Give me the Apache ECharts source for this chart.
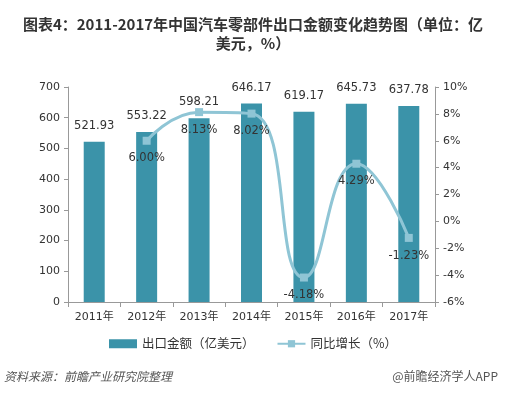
<!DOCTYPE html>
<html><head><meta charset="utf-8">
<script src="https://cdn.jsdelivr.net/npm/echarts@6/dist/echarts.min.js"></script>
<style>html,body{margin:0;padding:0;background:#fff}#c{width:506px;height:397px}</style>
</head><body><div id="c"></div>
<script>
var categories = ['2011年','2012年','2013年','2014年','2015年','2016年','2017年'];
var exportValues = [521.93, 553.22, 598.21, 646.17, 619.17, 645.73, 637.78];
var growthValues = ['-', 6.00, 8.13, 8.02, -4.18, 4.29, -1.23];
var seriesNames = ['出口金额（亿美元）', '同比增长（%）'];
var titleText = '图表4：2011-2017年中国汽车零部件出口金额变化趋势图（单位：亿\n美元，%）';
var sourceText = '资料来源：前瞻产业研究院整理';
var brandText = '@前瞻经济学人APP';

var font = '"Noto Sans CJK SC", sans-serif';
var numFont = '"DejaVu Sans", "Noto Sans CJK SC", sans-serif';
var chart = echarts.init(document.getElementById('c'), null, {renderer:'canvas'});
chart.setOption({
  animation: false,
  backgroundColor: '#fff',
  title: [{
    text: titleText, left: 'center', top: 10,
    textStyle: {fontSize: 15, fontWeight: 'bold', color: '#333', lineHeight: 19, fontFamily: font}
  }],
  graphic: [
    {type:'text', left: 4, top: 370, style:{text: sourceText, fontSize: 12, fontStyle:'italic', fill:'#555', fontFamily: font}},
    {type:'text', right: 8, top: 370, style:{text: brandText, fontSize: 12, fill:'#555', fontFamily: font}}
  ],
  legend: {
    bottom: 42, left: 'center', itemGap: 22, itemWidth: 28, itemHeight: 9,
    textStyle: {fontSize: 12.5, color: '#333', fontFamily: font},
    data: [
      {name: seriesNames[0], icon: 'rect'},
      {name: seriesNames[1]}
    ]
  },
  grid: {left: 68, right: 71, top: 87, bottom: 95},
  xAxis: {
    type: 'category', data: categories,
    axisLine: {lineStyle: {color: '#999'}},
    axisTick: {show: true, lineStyle: {color: '#999'}, length: 5},
    axisLabel: {color: '#333', fontSize: 11, margin: 10, fontFamily: numFont}
  },
  yAxis: [{
    type: 'value', min: 0, max: 700, interval: 100,
    axisLine: {show: true, lineStyle: {color: '#999'}},
    axisTick: {show: true, lineStyle: {color: '#999'}, length: 4},
    splitLine: {show: false},
    axisLabel: {color: '#333', fontSize: 11, fontFamily: numFont}
  }, {
    type: 'value', min: -6, max: 10, interval: 2,
    axisLine: {show: true, lineStyle: {color: '#999'}},
    axisTick: {show: true, lineStyle: {color: '#999'}, length: 4},
    splitLine: {show: false},
    axisLabel: {color: '#333', fontSize: 11, formatter: '{value}%', fontFamily: numFont}
  }],
  series: [{
    name: seriesNames[0], type: 'bar', data: exportValues, barWidth: 21,
    itemStyle: {color: '#3b93a9'},
    label: {show: true, position: 'top', distance: 10, color: '#333', fontSize: 11.5, fontFamily: numFont,
      formatter: function(p){return p.value.toFixed(2);}}
  }, {
    name: seriesNames[1], type: 'line', yAxisIndex: 1, data: growthValues, smooth: 0.5,
    lineStyle: {color: '#8fc5d5', width: 3},
    itemStyle: {color: '#8fc5d5'},
    symbol: 'rect', symbolSize: 8,
    label: {show: true, position: 'bottom', distance: 8, color: '#333', fontSize: 11.5, fontFamily: numFont,
      formatter: function(p){return p.value.toFixed(2) + '%';}}
  }]
});
</script></body></html>
